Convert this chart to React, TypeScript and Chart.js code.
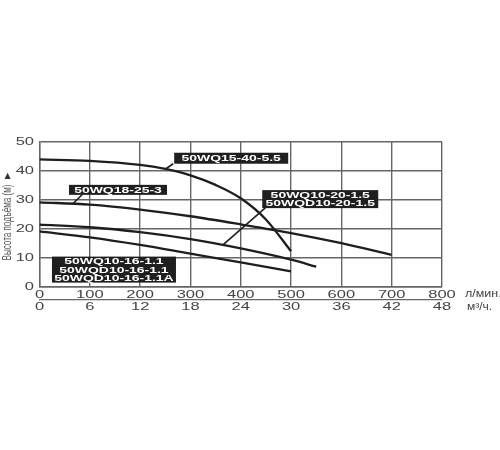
import React, { useEffect, useRef } from "react";
import { Chart, registerables } from "chart.js";

Chart.register(...registerables);

// ---- Data ----
const flowTicks = [0, 100, 200, 300, 400, 500, 600, 700, 800]; // л/мин.
const volTicks = [0, 6, 12, 18, 24, 30, 36, 42, 48]; // м³/ч.
const headTicks = [0, 10, 20, 30, 40, 50]; // м

const wq15Flow = [0, 100, 200, 250, 300, 350, 400, 450, 500];
const wq15Head = [44, 43.5, 42.1, 40.7, 38.5, 35.2, 30.6, 23.3, 12.3];

const wq18Flow = [0, 100, 200, 300, 400, 500, 600, 700];
const wq18Head = [29.2, 28.4, 26.7, 24.4, 21.6, 18.6, 15.1, 11.1];

const wq1020Flow = [0, 100, 200, 300, 400, 500, 550];
const wq1020Head = [21.5, 20.6, 18.9, 16.5, 13.3, 9.4, 7];

const wq1016Flow = [0, 100, 200, 300, 400, 500];
const wq1016Head = [19.2, 17.1, 14.5, 11.5, 8.5, 5.4];

const labelWQ15 = ["50WQ15-40-5.5"];
const labelWQ18 = ["50WQ18-25-3"];
const labelWQ1020 = ["50WQ10-20-1.5", "50WQD10-20-1.5"];
const labelWQ1016 = ["50WQ10-16-1.1", "50WQD10-16-1.1", "50WQD10-16-1.1A"];

const yTitle = "Высота подъёма (м)";
const flowUnit = "л/мин.";
const volUnit = "м³/ч.";

// ---- Annotations (centre / connector ends in data coordinates) ----
const annotations = [
  { cx: 381, cy: 44.4, w: 114, h: 11, lines: labelWQ15, from: [265.7, 42.5], to: [249.8, 40.6] },
  { cx: 156, cy: 33.5, w: 98, h: 10, lines: labelWQ18, from: [84.6, 31.8], to: [66.7, 28.8] },
  { cx: 558, cy: 30.3, w: 116, h: 18, lines: labelWQ1020, from: [448.8, 27.3], to: [365.2, 14.6] },
  { cx: 148, cy: 6, w: 124, h: 26, lines: labelWQ1016, from: null, to: null },
];

const TICK_FONT = '11px "Liberation Sans", Arial, sans-serif';
const BOX_FONT = 'bold 9px "Liberation Sans", Arial, sans-serif';
const TEXT_COLOR = "#444";
const LINE_COLOR = "#1e1e1e";
const GRID_COLOR = "#666";

function drawText(ctx: CanvasRenderingContext2D, text: string, x: number, y: number, align: string, font: string, sx: number) {
  ctx.save();
  ctx.font = font;
  ctx.textBaseline = "middle";
  ctx.textAlign = "left";
  const w = ctx.measureText(text).width * sx;
  const left = align === "center" ? x - w / 2 : align === "right" ? x - w : x;
  ctx.translate(left, y);
  ctx.scale(sx, 1);
  ctx.fillText(text, 0, 0);
  ctx.restore();
}

const annotationPlugin = {
  id: "pumpLabels",
  afterDatasetsDraw(chart: any) {
    const { ctx, scales } = chart;
    const xs = scales.x;
    const ys = scales.y;
    ctx.save();
    annotations.forEach((a) => {
      if (a.from && a.to) {
        ctx.strokeStyle = LINE_COLOR;
        ctx.lineWidth = 1.6;
        ctx.beginPath();
        ctx.moveTo(xs.getPixelForValue(a.from[0]), ys.getPixelForValue(a.from[1]));
        ctx.lineTo(xs.getPixelForValue(a.to[0]), ys.getPixelForValue(a.to[1]));
        ctx.stroke();
      }
    });
    annotations.forEach((a) => {
      const px = xs.getPixelForValue(a.cx);
      const py = ys.getPixelForValue(a.cy);
      ctx.fillStyle = "#1f1f1f";
      ctx.fillRect(px - a.w / 2, py - a.h / 2, a.w, a.h);
      ctx.fillStyle = "#ffffff";
      const n = a.lines.length;
      a.lines.forEach((t, i) => {
        drawText(ctx, t, px, py + (i - (n - 1) / 2) * 8.2 + 0.5, "center", BOX_FONT, 1.55);
      });
    });
    ctx.restore();
  },
  afterDraw(chart: any) {
    const { ctx, chartArea, scales } = chart;
    const xs = scales.x;
    const ys = scales.y;
    const x2 = scales.x2;
    ctx.save();
    ctx.fillStyle = TEXT_COLOR;
    headTicks.forEach((v) => {
      drawText(ctx, String(v), chartArea.left - 5.5, ys.getPixelForValue(v), "right", TICK_FONT, 1.5);
    });
    flowTicks.forEach((v) => {
      drawText(ctx, String(v), xs.getPixelForValue(v), chartArea.bottom + 7.5, "center", TICK_FONT, 1.5);
    });
    volTicks.forEach((v) => {
      drawText(ctx, String(v), x2.getPixelForValue(v), x2.top + 7, "center", TICK_FONT, 1.5);
    });
    drawText(ctx, flowUnit, chartArea.right + 23, chartArea.bottom + 7.5, "left", '10px "Liberation Sans", Arial, sans-serif', 1.25);
    drawText(ctx, volUnit, chartArea.right + 25, x2.top + 7, "left", '10px "Liberation Sans", Arial, sans-serif', 1.2);

    // y axis title (rotated) with arrow
    ctx.save();
    ctx.font = '10px "Liberation Sans", Arial, sans-serif';
    const natural = ctx.measureText(yTitle).width;
    ctx.translate(7.5, 222.5);
    ctx.rotate(-Math.PI / 2);
    ctx.scale(76 / natural, 1.25);
    ctx.textAlign = "center";
    ctx.textBaseline = "middle";
    ctx.fillStyle = "#555";
    ctx.fillText(yTitle, 0, 0);
    ctx.restore();
    ctx.fillStyle = "#333";
    ctx.font = '8px "DejaVu Sans", sans-serif';
    ctx.textAlign = "center";
    ctx.textBaseline = "middle";
    ctx.fillText("▲", 7.5, 176);
    ctx.restore();
  },
};

function toPoints(xs: number[], ys: number[]) {
  return xs.map((x, i) => ({ x, y: ys[i] }));
}

export default function App() {
  const ref = useRef<HTMLCanvasElement | null>(null);
  useEffect(() => {
    if (!ref.current) return;
    const lineDs = (label: string, xs: number[], ys: number[]) => ({
      label,
      data: toPoints(xs, ys),
      borderColor: LINE_COLOR,
      borderWidth: 2.3,
      pointRadius: 0,
      fill: false,
      cubicInterpolationMode: "monotone" as const,
    });
    const chart = new Chart(ref.current, {
      type: "line",
      data: {
        datasets: [
          lineDs(labelWQ15[0], wq15Flow, wq15Head),
          lineDs(labelWQ18[0], wq18Flow, wq18Head),
          lineDs(labelWQ1020[0], wq1020Flow, wq1020Head),
          lineDs(labelWQ1016[0], wq1016Flow, wq1016Head),
        ],
      },
      options: {
        animation: false,
        responsive: false,
        maintainAspectRatio: false,
        layout: { padding: { left: 0, top: 142, right: 58, bottom: 129 } },
        plugins: { legend: { display: false }, tooltip: { enabled: false } },
        scales: {
          x: {
            type: "linear",
            position: "bottom",
            min: 0,
            max: 800,
            weight: 0,
            ticks: { display: false, stepSize: 100 },
            grid: { color: GRID_COLOR, lineWidth: 1.4, drawTicks: false },
            border: { display: true, color: GRID_COLOR, width: 1.4 },
            afterFit: (s: any) => { s.height = 13; },
          },
          x2: {
            type: "linear",
            position: "bottom",
            min: 0,
            max: 48,
            weight: 1,
            ticks: { display: false, stepSize: 6 },
            grid: { drawOnChartArea: false, drawTicks: false, color: GRID_COLOR, lineWidth: 1.2 },
            border: { display: true, color: GRID_COLOR, width: 1.2 },
            afterFit: (s: any) => { s.height = 21; },
          },
          y: {
            type: "linear",
            min: 0,
            max: 50,
            ticks: { display: false, stepSize: 10 },
            grid: { color: GRID_COLOR, lineWidth: 1.4, drawTicks: false },
            border: { display: true, color: GRID_COLOR, width: 1.4 },
            afterFit: (s: any) => { s.width = 39.5; },
          },
        },
      },
      plugins: [annotationPlugin],
    });
    return () => chart.destroy();
  }, []);
  return (
    <div style={{ position: "fixed", left: 0, top: 0, width: 500, height: 450, background: "#fff" }}>
      <canvas ref={ref} width={500} height={450} style={{ width: 500, height: 450 }} />
    </div>
  );
}
